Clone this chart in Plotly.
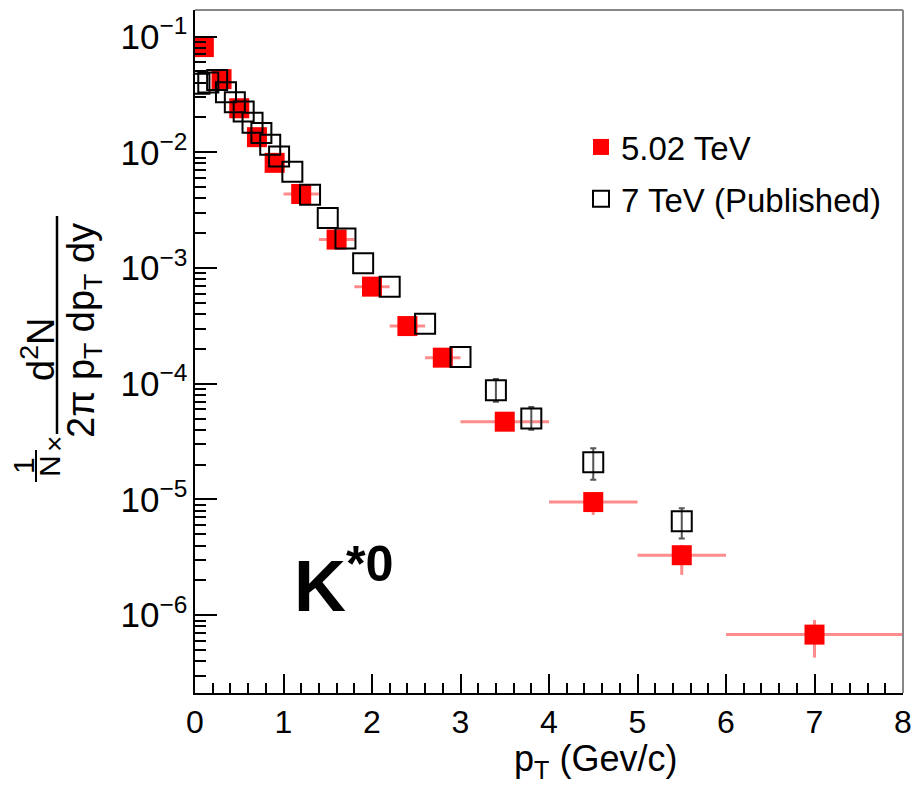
import plotly.graph_objects as go

# K*0 transverse-momentum spectra: 5.02 TeV vs published 7 TeV
red_pt = [0.1, 0.3, 0.5, 0.7, 0.9, 1.2, 1.6, 2.0, 2.4, 2.8, 3.5, 4.5, 5.5, 7.0]
red_pt_halfwidth = [0.1, 0.1, 0.1, 0.1, 0.1, 0.2, 0.2, 0.2, 0.2, 0.2, 0.5, 0.5, 0.5, 1.0]
red_yield = [0.081, 0.0428, 0.024, 0.0135, 0.0081, 0.00436, 0.00176, 6.9e-4,
             3.15e-4, 1.68e-4, 4.7e-5, 9.5e-6, 3.3e-6, 6.8e-7]
red_err_up = [0.006, 0.003, 0.0017, 0.001, 0.0006, 0.0003, 0.00012, 5e-5,
              2.2e-5, 1.2e-5, 5e-6, 2.1e-6, 0.75e-6, 2.3e-7]
red_err_down = [0.006, 0.003, 0.0017, 0.001, 0.0006, 0.0003, 0.00012, 5e-5,
                2.2e-5, 1.2e-5, 5e-6, 2.15e-6, 1.07e-6, 2.5e-7]

black_pt = [0.05, 0.15, 0.25, 0.35, 0.45, 0.55, 0.65, 0.75, 0.85, 0.95, 1.1,
            1.3, 1.5, 1.7, 1.9, 2.2, 2.6, 3.0, 3.4, 3.8, 4.5, 5.5]
black_yield = [0.039, 0.040, 0.042, 0.033, 0.027, 0.0225, 0.018, 0.0147, 0.0116,
               0.0092, 0.0068, 0.0043, 0.0027, 0.0018, 0.0011, 6.9e-4, 3.3e-4,
               1.7e-4, 8.8e-5, 5.0e-5, 2.1e-5, 6.5e-6]
# uncertainties of the last four points (smaller ones stay hidden under the markers)
black_err_up = [2.2e-5, 1.3e-5, 6.7e-6, 1.9e-6]
black_err_down = [1.8e-5, 1.0e-5, 6.2e-6, 1.9e-6]

series_names = ["5.02 TeV", "7 TeV (Published)"]
x_title = "p<sub>T</sub> (Gev/c)"
species_label = "<b>K<sup>*0</sup></b>"

FONT = "Liberation Sans, Arial, Helvetica, sans-serif"
W, H = 911, 787
ML, MR, MT, MB = 195, 8, 10, 94
PW, PH = W - ML - MR, H - MT - MB


def px(xp):
    return (xp - ML) / PW


def py(yp):
    return (H - MB - yp) / PH


fig = go.Figure()

fig.add_trace(go.Scatter(
    x=red_pt, y=red_yield, mode="markers", name=series_names[0],
    legendgroup="a",
    marker=dict(symbol="square", size=20, color="#ff0000", line=dict(width=0)),
    error_x=dict(type="data", array=red_pt_halfwidth, color="rgba(255,0,0,0.45)",
                 thickness=3, width=0),
    error_y=dict(type="data", array=red_err_up, arrayminus=red_err_down,
                 color="rgba(255,0,0,0.45)", thickness=3, width=0),
))

n_err = len(black_err_up)
fig.add_trace(go.Scatter(
    x=black_pt[-n_err:], y=black_yield[-n_err:], mode="markers",
    showlegend=False, hoverinfo="skip", legendgroup="b",
    marker=dict(symbol="square-open", size=20, color="black", opacity=0),
    error_y=dict(type="data", array=black_err_up, arrayminus=black_err_down,
                 color="#555555", thickness=2, width=3),
))

fig.add_trace(go.Scatter(
    x=black_pt, y=black_yield, mode="markers", name=series_names[1],
    legendgroup="b",
    marker=dict(symbol="square-open", size=20, color="black",
                line=dict(width=2, color="black")),
))

fig.update_xaxes(
    range=[0, 8], dtick=1, ticks="inside", ticklen=19, tickwidth=2,
    tickcolor="black", showline=True, linecolor="black", linewidth=2,
    showgrid=False, zeroline=False, ticklabeloverflow="allow", automargin=False,
    tickfont=dict(family=FONT, size=32, color="black"),
    minor=dict(dtick=0.2, ticks="inside", ticklen=10, tickwidth=2,
               tickcolor="black", showgrid=False),
)
fig.update_yaxes(
    type="log", range=[-6.672, -0.771], dtick=1, exponentformat="power",
    ticks="inside", ticklen=22, tickwidth=2, tickcolor="black",
    showline=True, linecolor="black", linewidth=2, showgrid=False,
    zeroline=False, ticklabelstandoff=0, automargin=False,
    tickfont=dict(family=FONT, size=28, color="black"),
    minor=dict(dtick="D1", ticks="inside", ticklen=11, tickwidth=2,
               tickcolor="black", showgrid=False),
)

# gray frame on top and right
fig.add_shape(type="line", xref="paper", yref="paper", x0=0, x1=1, y0=1, y1=1,
              line=dict(color="#888888", width=2))
fig.add_shape(type="line", xref="paper", yref="paper", x0=1, x1=1, y0=0, y1=1,
              line=dict(color="#888888", width=2))

annotations = []

# x-axis title
annotations.append(dict(text=x_title, xref="paper", yref="paper",
                        x=px(595), y=py(761), xanchor="center", yanchor="middle",
                        showarrow=False, font=dict(family=FONT, size=36, color="black")))

# species label
annotations.append(dict(text=species_label, xref="x", yref="y",
                        x=1.1, y=-5.70, xanchor="left", yanchor="middle",
                        showarrow=False, font=dict(family=FONT, size=72, color="black")))

# y-axis title built from rotated pieces: 1/N x d2N / (2pi pT dpT dy)
ytf = dict(family=FONT, size=38, color="black")
small = dict(family=FONT, size=30, color="black")
annotations.append(dict(text="2π p<sub>T</sub> dp<sub>T</sub> dy", xref="paper", yref="paper",
                        x=px(84), y=py(331), xanchor="center", yanchor="middle",
                        textangle=-90, showarrow=False, font=ytf))
annotations.append(dict(text="d<sup>2</sup>N", xref="paper", yref="paper",
                        x=px(38), y=py(350), xanchor="center", yanchor="middle",
                        textangle=-90, showarrow=False, font=ytf))
annotations.append(dict(text="×", xref="paper", yref="paper",
                        x=px(54), y=py(444), xanchor="center", yanchor="middle",
                        textangle=-90, showarrow=False,
                        font=dict(family=FONT, size=28, color="black")))
annotations.append(dict(text="1", xref="paper", yref="paper",
                        x=px(23), y=py(466), xanchor="center", yanchor="middle",
                        textangle=-90, showarrow=False, font=small))
annotations.append(dict(text="N", xref="paper", yref="paper",
                        x=px(49), y=py(466), xanchor="center", yanchor="middle",
                        textangle=-90, showarrow=False, font=small))
fig.add_shape(type="line", xref="paper", yref="paper",
              x0=px(57), x1=px(57), y0=py(216), y1=py(434),
              line=dict(color="black", width=2.5))
fig.add_shape(type="line", xref="paper", yref="paper",
              x0=px(36), x1=px(36), y0=py(450), y1=py(482),
              line=dict(color="black", width=2))

fig.update_layout(
    width=W, height=H, margin=dict(l=ML, r=MR, t=MT, b=MB),
    paper_bgcolor="white", plot_bgcolor="white",
    font=dict(family=FONT, color="black"),
    annotations=annotations,
    legend=dict(x=px(581), y=py(119), xanchor="left", yanchor="top",
                bgcolor="rgba(0,0,0,0)", traceorder="grouped", tracegroupgap=6,
                font=dict(family=FONT, size=33, color="black"),
                itemwidth=30),
    showlegend=True,
)

fig.write_html("out.html")
